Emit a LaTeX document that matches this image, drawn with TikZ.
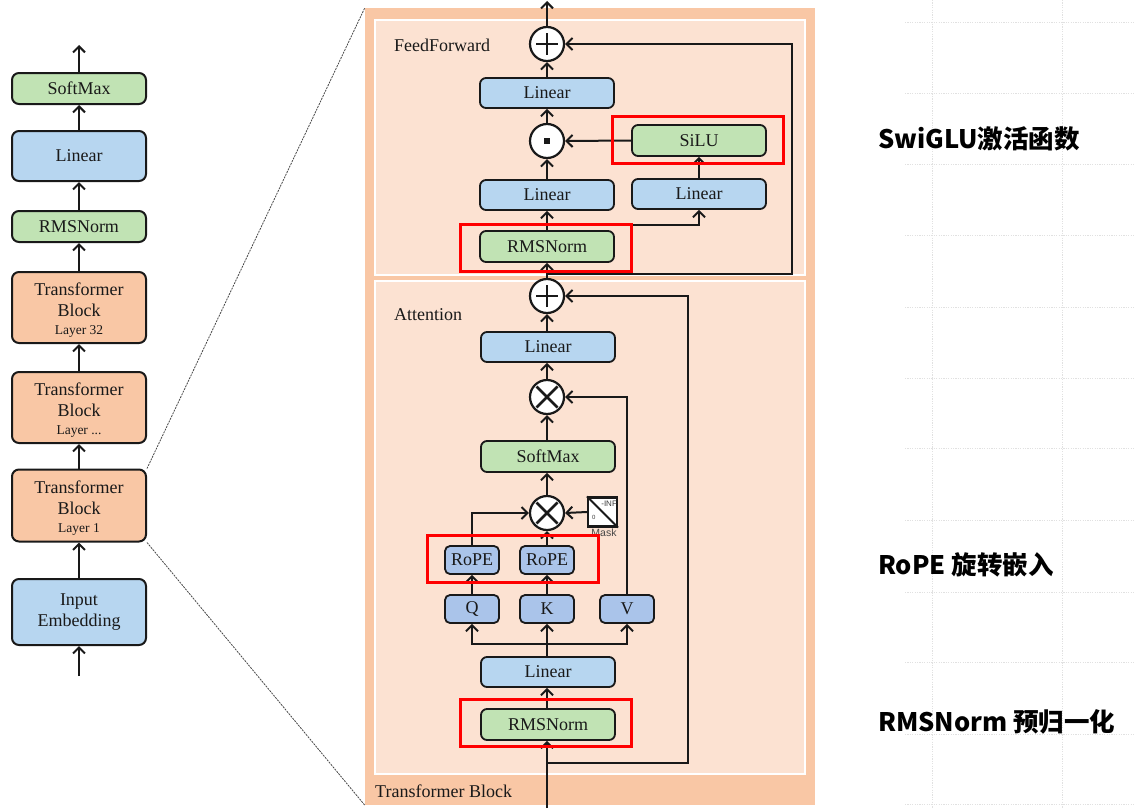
\documentclass[tikz,border=0pt]{standalone}
\usepackage{fontspec}
\setmainfont{Liberation Serif}
\newfontfamily\cjk{Noto Sans CJK SC}
\newfontfamily\smallsans{Liberation Sans}
\usetikzlibrary{arrows.meta,calc}
\definecolor{ink}{RGB}{25,25,25}
\definecolor{cgreen}{RGB}{193,227,180}
\definecolor{cblue}{RGB}{183,214,240}
\definecolor{cqkv}{RGB}{170,196,234}
\definecolor{corange}{RGB}{249,199,165}
\definecolor{cpanel}{RGB}{252,226,210}
\definecolor{cgrid}{RGB}{225,225,225}
\tikzset{
  arr/.style={draw=ink, line width=2pt, -{Straight Barb[length=6pt,width=12pt]}},
  conn/.style={draw=ink, line width=2pt},
  lbox/.style={draw=ink, line width=2pt, rounded corners=7pt, minimum width=134pt,
    inner sep=0pt, align=center, font=\fontsize{18}{21}\selectfont, text=ink},
  ltext/.style={inner sep=0pt, align=center, font=\fontsize{18}{21}\selectfont, text=ink},
  rbox/.style={draw=ink, line width=1.8pt, rounded corners=6pt, minimum width=134pt,
    minimum height=30pt, inner sep=0pt, font=\fontsize{18}{21}\selectfont, text=ink},
  sbox/.style={draw=ink, line width=1.8pt, rounded corners=5pt, minimum width=54pt,
    minimum height=28pt, inner sep=0pt, fill=cqkv, font=\fontsize{18}{21}\selectfont, text=ink},
  circ/.style={circle, draw=ink, fill=white, line width=2.2pt, minimum size=34pt, inner sep=0pt},
  sym/.style={draw=ink, line width=2.8pt},
  redbox/.style={draw=red, line width=3pt, minimum width=171pt, minimum height=47pt, inner sep=0pt},
  zoomline/.style={draw=ink!80, line width=0.8pt, dash pattern=on 2pt off 1pt},
  gridl/.style={draw=cgrid, line width=0.9pt, dash pattern=on 1.2pt off 1.2pt},
  title/.style={anchor=west, inner sep=0pt, font=\fontsize{18}{21}\selectfont, text=ink},
  note/.style={anchor=west, inner sep=0pt, font=\cjk\bfseries\fontsize{25.5}{28}\selectfont, text=black},
}
\begin{document}
\begin{tikzpicture}[x=1pt,y=-1pt]
\useasboundingbox (0,0) rectangle (1134,808);
\fill[white] (0,0) rectangle (1134,808);

% faint grid on the right
\foreach \yy in {22,93,164,235,307,378,448,520,592,662,734,804}
  \draw[gridl] (905,\yy) -- (1134,\yy);
\draw[gridl] (932,0) -- (932,808);
\draw[gridl] (1062,0) -- (1062,808);

% ---------------- left column ----------------
\coordinate (lout) at (79,45);
\coordinate (lin) at (79,676);
\node[lbox, fill=cgreen, minimum height=31pt] (ls) at (79,88.5) {SoftMax};
\node[lbox, fill=cblue, minimum height=50pt] (ll) at (79,156) {Linear};
\node[lbox, fill=cgreen, minimum height=31pt] (lr) at (79,226.5) {RMSNorm};
\node[lbox, fill=corange, minimum height=71pt] (lt32) at (79,307.5) {};
\node[lbox, fill=corange, minimum height=71pt] (ltd) at (79,407.5) {};
\node[lbox, fill=corange, minimum height=72pt] (lt1) at (79,505.5) {};
\node[ltext] (lt32t) at ([yshift=-3pt]lt32.center)
  {Transformer\\Block\\[-3pt]{\fontsize{13.5}{15}\selectfont Layer 32}};
\node[ltext] (ltdt) at ([yshift=-3pt]ltd.center)
  {Transformer\\Block\\[-3pt]{\fontsize{13.5}{15}\selectfont Layer ...}};
\node[ltext] (lt1t) at ([yshift=-3pt]lt1.center)
  {Transformer\\Block\\[-3pt]{\fontsize{13.5}{15}\selectfont Layer 1}};
\node[lbox, fill=cblue, minimum height=66pt] (le) at (79,612) {Input\\Embedding};
\draw[arr] (ls.north) -- (lout);
\draw[arr] (ll.north) -- (ls.south);
\draw[arr] (lr.north) -- (ll.south);
\draw[arr] (lt32.north) -- (lr.south);
\draw[arr] (ltd.north) -- (lt32.south);
\draw[arr] (lt1.north) -- (ltd.south);
\draw[arr] (le.north) -- (lt1.south);
\draw[arr] (lin) -- (le.south);

% ---------------- transformer block ----------------
\node[fill=corange, minimum width=450pt, minimum height=797pt, inner sep=0pt] (tb) at (590,406.5) {};
\node[fill=cpanel, draw=white, line width=1.5pt, minimum width=430pt, minimum height=255pt, inner sep=0pt] (ffpanel) at (590,147.5) {};
\node[fill=cpanel, draw=white, line width=1.5pt, minimum width=430pt, minimum height=493pt, inner sep=0pt] (atpanel) at (590,527.5) {};
\node[title] (tbl) at (375,791) {Transformer Block};
\node[title] (ffl) at (394,45) {FeedForward};
\node[title] (atl) at (394,315) {Attention};

\draw[zoomline] (lt1.north east) -- (tb.north west);
\draw[zoomline] (lt1.south east) -- (tb.south west);

% FeedForward
\coordinate (fftop) at (547,1);
\coordinate (ffsplit) at (547,274);
\coordinate (ffsplitb) at (547,225);
\node[circ] (ffp) at (547,44) {};
\node[rbox, fill=cblue] (fflin) at (547,93) {Linear};
\node[circ] (ffdot) at (547,141) {};
\node[rbox, fill=cgreen, minimum height=31pt] (ffsilu) at (699,140.5) {SiLU};
\node[rbox, fill=cblue] (fflina) at (547,195) {Linear};
\node[rbox, fill=cblue] (fflinb) at (699,194) {Linear};
\node[rbox, fill=cgreen, minimum height=31pt] (ffrms) at (547,246.5) {RMSNorm};

\draw[sym] ([xshift=-11pt]ffp.center) -- ([xshift=11pt]ffp.center)
           ([yshift=-11pt]ffp.center) -- ([yshift=11pt]ffp.center);
\fill[ink] ([shift={(-2.7pt,-2.7pt)}]ffdot.center) rectangle ([shift={(2.7pt,2.7pt)}]ffdot.center);

\draw[arr] (ffp.north) -- (fftop);
\draw[arr] (fflin.north) -- (ffp.south);
\draw[arr] (ffdot.north) -- (fflin.south);
\draw[arr] (fflina.north) -- (ffdot.south);
\draw[arr] (ffsilu.west) -- (ffdot.east);
\draw[arr] (fflinb.north) -- (ffsilu.south);
\draw[arr] (ffrms.north) -- (fflina.south);
\draw[arr] (ffsplitb) -| (fflinb.south);
\draw[arr] (ffsplit) -- ++(245,0) |- (ffp.east);

% Attention
\coordinate (attsplit) at (547,763);
\coordinate (attin) at (547,808);
\coordinate (qkvsplit) at (547,644);
\node[circ] (ap) at (547,296) {};
\node[rbox, fill=cblue] (alin) at (548,347) {Linear};
\node[circ] (m1) at (547,397) {};
\node[rbox, fill=cgreen, minimum height=31pt] (asm) at (548,456.5) {SoftMax};
\node[circ] (m2) at (547,513) {};
\node[draw=ink, line width=2.2pt, fill=white, minimum size=29pt, inner sep=0pt] (mask) at (602.5,512) {};
\draw[ink, line width=1.8pt] (mask.north west) -- (mask.south east);
\node[anchor=north east, inner sep=0pt, font=\smallsans\fontsize{8}{8}\selectfont, text=ink!85] (minf) at ([shift={(-1pt,-4pt)}]mask.north east) {-INF};
\node[anchor=south west, inner sep=0pt, font=\smallsans\fontsize{6}{6}\selectfont, text=ink!85] (mzero) at ([shift={(5pt,8pt)}]mask.south west) {0};
\node[inner sep=0pt, font=\smallsans\fontsize{10.5}{11}\selectfont, text=ink!80] (mlab) at (604,533) {Mask};
\node[sbox] (rq) at (472,560) {RoPE};
\node[sbox] (rk) at (547,560) {RoPE};
\node[sbox] (q) at (472,609) {Q};
\node[sbox] (k) at (547,609) {K};
\node[sbox] (v) at (627,609) {V};
\node[rbox, fill=cblue] (alin2) at (548,672) {Linear};
\node[rbox, fill=cgreen, minimum height=31pt] (arms) at (548,724.5) {RMSNorm};

\draw[sym] ([xshift=-11pt]ap.center) -- ([xshift=11pt]ap.center)
           ([yshift=-11pt]ap.center) -- ([yshift=11pt]ap.center);
\foreach \c in {m1,m2}
  \draw[sym, line width=2.6pt] ([shift={(-10.5pt,-10.5pt)}]\c.center) -- ([shift={(10.5pt,10.5pt)}]\c.center)
             ([shift={(-10.5pt,10.5pt)}]\c.center) -- ([shift={(10.5pt,-10.5pt)}]\c.center);

\draw[arr] (ap.north) -- (ffrms.south);
\draw[arr] (alin.north -| ap.south) -- (ap.south);
\draw[arr] (m1.north) -- (alin.south -| m1.north);
\draw[arr] (asm.north -| m1.south) -- (m1.south);
\draw[arr] (m2.north) -- (asm.south -| m2.north);
\draw[arr] (rk.north) -- (m2.south);
\draw[arr] (rq.north) |- (m2.west);
\draw[arr] (mask.west) -- (m2.east);
\draw[arr] (v.north) |- (m1.east);
\draw[arr] (q.north) -- (rq.south);
\draw[arr] (k.north) -- (rk.south);
\draw[conn] (alin2.north -| qkvsplit) -- (qkvsplit);
\draw[arr] (qkvsplit) -| (q.south);
\draw[arr] (qkvsplit) -- (k.south);
\draw[arr] (qkvsplit) -| (v.south);
\draw[arr] (arms.north -| attin) -- (alin2.south -| attin);
\draw[arr] (attin) -- (arms.south -| attin);
\draw[arr] (attsplit) -- ++(141,0) |- (ap.east);

% red highlight boxes
\node[redbox] (red1) at (697.5,139.5) {};
\node[redbox] (red2) at (545.5,247.5) {};
\node[redbox] (red3) at (512.5,558.5) {};
\node[redbox] (red4) at (545.5,722.5) {};

% right notes
\node[note] (n1) at (878,139) {SwiGLU激活函数};
\node[note] (n2) at (878,565) {RoPE 旋转嵌入};
\node[note] (n3) at (878,722) {RMSNorm 预归一化};
\end{tikzpicture}
\end{document}
